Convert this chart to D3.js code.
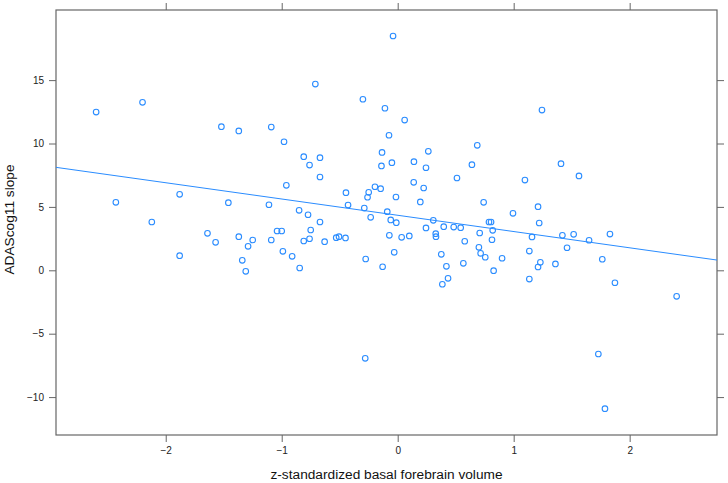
<!DOCTYPE html>
<html>
<head>
<meta charset="utf-8">
<script src="https://cdn.jsdelivr.net/npm/d3@7"></script>
<style>
  body { margin: 0; background: #fff; }
  text { font-family: "Liberation Sans", Arial, sans-serif; }
</style>
</head>
<body>
<div id="chart"></div>
<script>
// basal forebrain volume (z) vs ADAScog11 slope
const xVals = [
  -2.60, -2.20, -1.52, -1.37, -0.04, -0.71, -0.30, -0.11, 0.06, -1.09,
  -0.98, -0.075, 0.686, -0.135, 0.264, -0.81, -0.67, -0.76, -0.14, -0.05,
  0.14, 0.244, 0.64, 1.244, 1.408, -2.43, -1.88, -2.12, -1.88, -1.46,
  -1.64, -1.57, -1.37, -1.29, -1.34, -1.31, -0.67, -0.96, -0.446, -0.25,
  -0.196, -0.147, -0.26, -0.015, 0.511, 0.224, 0.138, 0.195, 0.741, -1.11,
  -0.85, -0.428, -0.288, -0.773, -0.09, -0.67, -0.233, -0.06, -0.012, 0.307,
  0.787, 0.805, -1.04, -1.0, -0.75, 0.244, 0.397, 0.483, 0.543, 0.707,
  -1.25, -1.09, -0.81, -0.76, -0.63, -0.53, -0.506, -0.45, -0.072, 0.034,
  0.10, 0.328, 0.33, 0.578, 0.70, 0.715, 0.755, -0.99, -0.91, -0.845,
  -0.276, -0.13, -0.03, 0.376, 0.42, 0.434, 0.385, 0.566, 1.563, 1.097,
  1.21, 0.994, 1.22, 0.819, 1.158, 1.42, 1.517, 1.65, 1.83, 0.813,
  1.135, 1.46, 0.90, 1.23, 1.21, 1.36, 1.764, 0.827, 1.135, 1.873,
  2.405, -0.28, 1.73, 1.787
];
const yVals = [
  12.48, 13.25, 11.33, 10.99, 18.48, 14.69, 13.49, 12.78, 11.85, 11.30,
  10.14, 10.65, 9.86, 9.30, 9.38, 8.96, 8.88, 8.30, 8.23, 8.49,
  8.57, 8.09, 8.33, 12.64, 8.41, 5.36, 5.99, 3.81, 1.15, 5.33,
  2.92, 2.21, 2.65, 1.89, 0.79, -0.08, 7.36, 6.70, 6.12, 6.15,
  6.59, 6.44, 5.76, 5.78, 7.28, 6.49, 6.94, 5.39, 5.36, 5.17,
  4.73, 5.15, 4.91, 4.38, 4.62, 3.81, 4.18, 3.97, 3.76, 3.94,
  3.81, 3.81, 3.10, 3.10, 3.18, 3.34, 3.44, 3.41, 3.36, 2.94,
  2.39, 2.39, 2.31, 2.49, 2.26, 2.57, 2.65, 2.55, 2.76, 2.60,
  2.71, 2.89, 2.65, 2.29, 1.81, 1.34, 1.03, 1.50, 1.10, 0.18,
  0.89, 0.28, 1.42, 1.26, 0.31, -0.63, -1.10, 0.55, 7.44, 7.12,
  5.02, 4.49, 3.73, 3.15, 2.63, 2.76, 2.84, 2.37, 2.86, 2.41,
  1.52, 1.78, 0.95, 0.63, 0.26, 0.50, 0.87, -0.03, -0.69, -0.98,
  -2.05, -6.94, -6.60, -10.91
];
const xTicks = [-2, -1, 0, 1, 2];
const yTicks = [-10, -5, 0, 5, 10, 15];
// fitted line
const fitIntercept = 4.34;
const fitSlope = -1.283;

const data = xVals.map((x, i) => ({x: x, y: yVals[i]}));

const W = 728, H = 483;
const margin = {top: 10, right: 11, bottom: 48, left: 56};
const width = W - margin.left - margin.right;
const height = H - margin.top - margin.bottom;
const blue = "#2a8cff";
const frameCol = "#666";

const svg = d3.select("#chart").append("svg")
    .attr("width", W)
    .attr("height", H);
const g = svg.append("g")
    .attr("transform", `translate(${margin.left},${margin.top})`);

const x = d3.scaleLinear().domain([-2.946, 2.753]).range([0, width]);
const y = d3.scaleLinear().domain([-12.99, 20.53]).range([height, 0]);

function styleAxis(sel, showLabels) {
  sel.select(".domain").remove();
  sel.selectAll(".tick line").attr("stroke", frameCol);
  sel.selectAll(".tick text")
    .attr("fill", "#222")
    .style("font-size", "10px")
    .style("font-family", "'Liberation Sans', Arial, sans-serif");
  if (!showLabels) sel.selectAll(".tick text").remove();
}

g.append("g")
  .attr("transform", `translate(0,${height})`)
  .call(d3.axisBottom(x).tickValues(xTicks).tickSize(7).tickPadding(5).tickFormat(d3.format("d")))
  .call(s => styleAxis(s, true));
g.append("g")
  .call(d3.axisTop(x).tickValues(xTicks).tickSize(7))
  .call(s => styleAxis(s, false));
g.append("g")
  .call(d3.axisLeft(y).tickValues(yTicks).tickSize(7).tickPadding(5).tickFormat(d3.format("d")))
  .call(s => styleAxis(s, true));
g.append("g")
  .attr("transform", `translate(${width},0)`)
  .call(d3.axisRight(y).tickValues(yTicks).tickSize(7))
  .call(s => styleAxis(s, false));

// frame
g.append("rect")
  .attr("width", width)
  .attr("height", height)
  .attr("fill", "none")
  .attr("stroke", frameCol)
  .attr("stroke-width", 1.2);

g.append("clipPath").attr("id", "clip")
  .append("rect").attr("width", width).attr("height", height);

g.selectAll(".pt")
  .data(data)
  .enter()
  .append("circle")
  .attr("class", "pt")
  .attr("cx", d => x(d.x))
  .attr("cy", d => y(d.y))
  .attr("r", 2.8)
  .attr("fill", "none")
  .attr("stroke", blue)
  .attr("stroke-width", 1.1);

const xd = x.domain();
g.append("line")
  .attr("clip-path", "url(#clip)")
  .attr("x1", x(xd[0]))
  .attr("y1", y(fitIntercept + fitSlope * xd[0]))
  .attr("x2", x(xd[1]))
  .attr("y2", y(fitIntercept + fitSlope * xd[1]))
  .attr("stroke", blue)
  .attr("stroke-width", 1);

// axis titles
svg.append("text")
  .attr("x", margin.left + width / 2)
  .attr("y", 479)
  .attr("text-anchor", "middle")
  .style("font-size", "13.7px")
  .attr("fill", "#111")
  .text("z-standardized basal forebrain volume");

svg.append("text")
  .attr("transform", `translate(14,${margin.top + height / 2 - 3}) rotate(-90)`)
  .attr("text-anchor", "middle")
  .style("font-size", "13.7px")
  .attr("fill", "#111")
  .text("ADAScog11 slope");
</script>
</body>
</html>
